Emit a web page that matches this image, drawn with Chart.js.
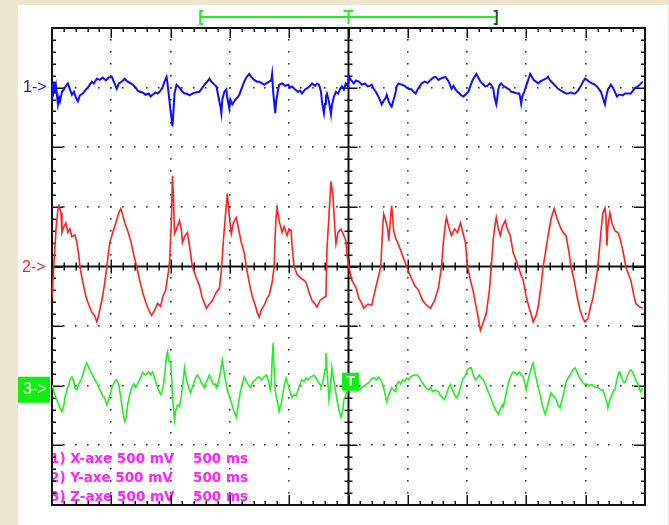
<!DOCTYPE html>
<html>
<head>
<meta charset="utf-8">
<title>Oszilloskop X / Y / Z</title>
<script src="https://cdn.jsdelivr.net/npm/chart.js@4.4.1/dist/chart.umd.min.js"></script>
<style>
  html, body { margin: 0; padding: 0; background: #efe6cf; overflow: hidden; }
  canvas { display: block; }
</style>
</head>
<body>
<canvas id="scope" width="669" height="525"></canvas>
<script>
// zeitbasis und empfindlichkeit (500 ms/div, 500 mV/div)
const timeMax = 5000;
const timeDiv = 500;
const timeMinor = 100;
const voltMax = 2000;
const voltDiv = 500;
const voltMinor = 100;

// bezugslinien der kanaele (mV auf dem schirm)
const channelOffset = [1500, 0, -1000];
const channelNames = ["1->", "2->", "3->"];
const channelColors = ["#0d0dff", "#ff2020", "#22ee22"];

const legendLines = [
  ["1) X-axe 500 mV", "500 ms"],
  ["2) Y-axe 500 mV", "500 ms"],
  ["3) Z-axe 500 mV", "500 ms"]
];

// [zeit ms, spannung mV] relativ zur bezugslinie
const ch1Samples = [[0,35],[8,-75],[17,50],[25,-50],[34,10],[50,-140],[59,-85],[67,-115],[84,-35],[101,-15],[118,15],[134,35],[151,-15],[168,-60],[185,-35],[202,-85],[218,-115],[235,-65],[260,-50],[286,-15],[302,0],[319,25],[336,50],[353,35],[378,75],[403,65],[428,85],[454,60],[479,85],[504,90],[521,50],[546,-10],[563,35],[588,50],[613,75],[638,50],[664,35],[680,25],[706,0],[722,-25],[739,-35],[764,-40],[790,-60],[815,-50],[832,-75],[848,-60],[874,-40],[890,-50],[907,-35],[932,0],[949,50],[966,90],[974,35],[991,-115],[1000,-200],[1016,-325],[1025,-185],[1033,-50],[1050,25],[1075,0],[1100,-35],[1117,-50],[1134,-50],[1159,-65],[1184,-50],[1210,-40],[1243,-35],[1268,0],[1294,35],[1310,50],[1327,75],[1344,50],[1369,25],[1386,10],[1403,-75],[1420,-160],[1428,-215],[1436,-100],[1453,-35],[1470,-15],[1478,-85],[1495,-175],[1504,-100],[1520,-140],[1546,-100],[1562,-85],[1579,-60],[1596,-15],[1621,50],[1638,85],[1663,115],[1680,90],[1705,65],[1730,50],[1747,50],[1772,35],[1789,25],[1806,35],[1831,50],[1848,60],[1856,115],[1865,-35],[1882,-215],[1890,-115],[1907,-15],[1915,25],[1940,35],[1966,15],[1991,25],[2008,0],[2024,10],[2050,-15],[2075,-35],[2092,-25],[2108,-50],[2134,-15],[2159,0],[2176,15],[2192,35],[2218,15],[2234,35],[2251,25],[2268,-35],[2276,-115],[2293,-215],[2302,-135],[2310,-75],[2318,-50],[2335,-115],[2352,-225],[2360,-150],[2377,-75],[2394,-35],[2411,-50],[2428,-15],[2444,10],[2461,-15],[2478,35],[2495,15],[2503,90],[2520,65],[2545,35],[2562,60],[2587,50],[2612,25],[2638,35],[2663,10],[2680,15],[2696,25],[2713,-10],[2730,-35],[2747,-65],[2764,-100],[2780,-140],[2797,-110],[2814,-85],[2822,-60],[2839,-115],[2856,-150],[2864,-160],[2881,-100],[2898,-35],[2906,10],[2923,35],[2948,25],[2974,15],[2990,0],[3007,-10],[3032,-15],[3049,-35],[3066,-50],[3083,-15],[3100,10],[3116,35],[3142,50],[3167,40],[3192,65],[3217,85],[3234,90],[3259,65],[3276,75],[3301,85],[3318,90],[3335,65],[3352,35],[3368,-10],[3385,15],[3402,-15],[3419,-35],[3436,-50],[3452,-65],[3469,-75],[3486,-60],[3503,-40],[3511,-35],[3528,15],[3545,60],[3562,90],[3578,115],[3595,85],[3612,50],[3629,35],[3654,10],[3671,15],[3688,35],[3704,25],[3721,-10],[3730,-75],[3746,-140],[3755,-85],[3763,-15],[3772,15],[3788,35],[3805,15],[3830,0],[3856,-15],[3872,-35],[3898,-40],[3923,-50],[3940,-50],[3948,-85],[3956,-135],[3965,-75],[3982,-35],[3998,15],[4015,65],[4032,115],[4049,85],[4066,60],[4082,50],[4099,35],[4116,50],[4141,65],[4166,75],[4183,90],[4200,60],[4225,35],[4250,10],[4267,-10],[4292,-25],[4318,-40],[4334,-50],[4351,-50],[4376,-40],[4393,-50],[4410,-50],[4435,-25],[4460,15],[4477,50],[4494,75],[4511,65],[4528,50],[4553,35],[4578,25],[4603,0],[4628,-35],[4645,-85],[4662,-140],[4670,-90],[4687,-15],[4704,10],[4712,25],[4729,0],[4746,-35],[4763,-75],[4780,-60],[4796,-60],[4813,-65],[4830,-50],[4855,-50],[4880,-50],[4906,-15],[4922,0],[4939,10],[4956,25],[4981,50]];

const ch2Samples = [[0,-260],[17,35],[34,315],[50,485],[59,510],[76,450],[84,285],[101,335],[118,365],[134,285],[151,315],[168,250],[193,265],[210,200],[227,85],[235,0],[260,-135],[286,-250],[311,-325],[336,-385],[361,-415],[378,-465],[395,-400],[420,-285],[445,-135],[462,0],[487,200],[512,285],[538,365],[563,450],[580,485],[596,435],[613,365],[638,300],[664,215],[689,100],[714,0],[739,-115],[764,-215],[790,-300],[815,-365],[840,-410],[865,-365],[890,-310],[916,-335],[932,-260],[958,-200],[983,-35],[991,35],[1008,425],[1016,760],[1025,550],[1033,275],[1050,315],[1075,385],[1092,300],[1100,200],[1117,250],[1142,285],[1159,175],[1184,0],[1218,-100],[1243,-160],[1268,-265],[1302,-350],[1327,-315],[1352,-285],[1386,-215],[1411,-185],[1428,-35],[1445,215],[1462,425],[1478,610],[1495,425],[1512,275],[1529,365],[1554,410],[1579,285],[1596,200],[1621,115],[1638,0],[1663,-135],[1688,-250],[1714,-325],[1730,-385],[1747,-425],[1764,-365],[1789,-325],[1814,-265],[1831,-240],[1856,-135],[1873,0],[1882,260],[1890,425],[1898,490],[1915,385],[1940,285],[1957,335],[1982,260],[1999,315],[2016,300],[2024,175],[2041,0],[2066,-65],[2100,-100],[2125,-115],[2142,-135],[2167,-215],[2192,-285],[2218,-315],[2234,-340],[2260,-285],[2293,-260],[2310,-250],[2318,135],[2335,425],[2352,715],[2369,590],[2386,300],[2394,190],[2411,285],[2436,315],[2461,260],[2478,215],[2486,110],[2503,0],[2528,-115],[2562,-175],[2587,-265],[2612,-310],[2629,-350],[2663,-315],[2696,-325],[2730,-175],[2755,-75],[2772,0],[2789,340],[2797,440],[2814,385],[2831,315],[2839,215],[2856,425],[2864,510],[2881,300],[2898,235],[2915,200],[2940,135],[2965,65],[2990,0],[3024,-85],[3058,-160],[3091,-200],[3125,-285],[3158,-325],[3192,-350],[3226,-285],[3259,-175],[3284,0],[3301,215],[3318,365],[3326,410],[3343,340],[3368,260],[3394,315],[3419,285],[3444,365],[3461,300],[3486,200],[3503,0],[3528,-115],[3553,-215],[3570,-310],[3595,-435],[3612,-535],[3637,-465],[3662,-390],[3688,-200],[3704,0],[3721,235],[3738,365],[3746,410],[3763,315],[3780,260],[3797,335],[3822,385],[3839,315],[3864,260],[3889,115],[3914,50],[3931,0],[3956,-75],[3973,-115],[3998,-250],[4024,-350],[4040,-400],[4057,-465],[4082,-410],[4099,-340],[4124,-160],[4141,0],[4166,150],[4183,260],[4208,400],[4234,485],[4259,400],[4292,315],[4318,275],[4334,260],[4360,115],[4376,0],[4402,-115],[4427,-250],[4452,-365],[4477,-435],[4494,-465],[4519,-435],[4544,-325],[4561,-265],[4586,-115],[4603,0],[4628,285],[4645,450],[4662,490],[4670,425],[4679,175],[4687,340],[4704,450],[4721,365],[4746,300],[4771,285],[4788,240],[4813,135],[4838,0],[4864,-75],[4880,-115],[4906,-240],[4922,-310],[4948,-335],[4981,-350]];

const ch3Samples = [[0,10],[17,-50],[34,-100],[50,-140],[67,-185],[84,-215],[101,-160],[109,-100],[126,-35],[143,10],[151,50],[168,75],[185,35],[193,-15],[210,-35],[227,15],[244,50],[260,90],[277,150],[294,190],[311,150],[328,115],[344,85],[361,50],[378,25],[395,-15],[412,-50],[428,-85],[445,-100],[462,-160],[479,-115],[496,-50],[512,0],[529,35],[546,50],[563,10],[580,-100],[596,-215],[613,-300],[622,-285],[638,-160],[655,-75],[672,-15],[689,15],[706,-15],[722,15],[739,50],[764,110],[790,90],[815,115],[832,90],[848,115],[865,65],[882,10],[899,-35],[916,-75],[924,-60],[941,10],[958,175],[966,260],[974,285],[983,215],[1000,190],[1008,90],[1016,-75],[1025,-200],[1033,-285],[1042,-215],[1058,-160],[1075,-175],[1092,-75],[1109,65],[1117,150],[1134,50],[1151,-15],[1168,-60],[1176,-35],[1193,15],[1210,65],[1226,90],[1243,65],[1260,25],[1277,0],[1285,-15],[1302,35],[1310,50],[1327,90],[1344,50],[1361,10],[1378,15],[1386,-15],[1403,35],[1420,115],[1436,215],[1445,150],[1462,50],[1478,-35],[1495,-85],[1512,-140],[1529,-200],[1546,-240],[1554,-265],[1571,-160],[1588,-50],[1604,15],[1621,75],[1638,35],[1655,10],[1672,-15],[1680,0],[1697,35],[1714,50],[1730,65],[1747,75],[1764,50],[1781,65],[1806,90],[1823,50],[1831,10],[1840,-35],[1848,10],[1856,215],[1865,360],[1873,135],[1882,-35],[1890,-90],[1907,-160],[1915,-215],[1932,-160],[1949,-50],[1966,35],[1974,65],[1991,10],[2008,-50],[2024,-100],[2041,-75],[2058,-85],[2075,-35],[2092,15],[2108,50],[2125,35],[2142,65],[2159,50],[2184,75],[2209,90],[2226,65],[2243,35],[2260,10],[2268,-10],[2285,35],[2302,135],[2310,275],[2318,150],[2327,10],[2335,-115],[2344,-50],[2360,150],[2369,90],[2386,-15],[2402,-115],[2419,-200],[2436,-260],[2453,-200],[2461,-115],[2478,-75],[2495,-35],[2520,-35],[2545,-25],[2570,-15],[2596,-35],[2612,-15],[2638,0],[2654,15],[2671,25],[2688,50],[2705,65],[2722,65],[2738,50],[2755,75],[2772,50],[2789,10],[2806,-60],[2822,-135],[2831,-100],[2848,-60],[2864,-15],[2881,-35],[2898,-50],[2906,10],[2923,35],[2940,15],[2957,50],[2974,35],[2990,65],[3007,50],[3024,75],[3041,85],[3066,90],[3083,90],[3100,65],[3116,35],[3133,10],[3150,-15],[3175,-35],[3192,-15],[3209,-50],[3234,-35],[3259,-50],[3276,-85],[3293,-100],[3310,-115],[3326,-75],[3343,-15],[3360,10],[3377,-35],[3394,-75],[3410,-100],[3427,-75],[3444,-15],[3461,50],[3478,75],[3486,90],[3503,135],[3520,150],[3536,150],[3553,90],[3570,50],[3587,65],[3604,90],[3620,65],[3637,50],[3654,10],[3671,-35],[3688,-75],[3704,-115],[3721,-160],[3738,-200],[3755,-225],[3763,-240],[3780,-200],[3797,-160],[3805,-175],[3822,-100],[3839,-15],[3856,50],[3872,90],[3889,115],[3906,110],[3923,90],[3940,115],[3956,90],[3973,75],[3990,10],[3998,-35],[4015,50],[4032,115],[4049,175],[4057,190],[4066,135],[4082,65],[4099,-10],[4116,-75],[4133,-160],[4150,-215],[4158,-240],[4175,-185],[4192,-115],[4208,-60],[4225,-85],[4242,-100],[4250,-115],[4267,-160],[4284,-185],[4301,-115],[4318,-50],[4334,25],[4351,65],[4368,90],[4393,135],[4410,150],[4427,115],[4444,75],[4460,50],[4477,25],[4494,10],[4511,15],[4528,0],[4553,10],[4578,-10],[4603,-15],[4628,-35],[4645,-35],[4662,-85],[4679,-140],[4687,-185],[4704,-115],[4721,-75],[4738,-35],[4746,-35],[4763,50],[4780,110],[4788,115],[4805,65],[4822,25],[4830,25],[4847,65],[4864,115],[4880,135],[4897,115],[4914,65],[4931,25],[4939,25],[4956,-35],[4964,-50],[4981,-15]];

const samples = [ch1Samples, ch2Samples, ch3Samples];

function steps(from, to, step) {
  const out = [];
  for (let v = from; v <= to + 0.001; v += step) out.push(v);
  return out;
}

// hintergrund: folienrand + weisser schirm
const backgroundPlugin = {
  id: "scopeBackground",
  beforeDraw(chart) {
    const ctx = chart.ctx;
    ctx.save();
    ctx.fillStyle = "#efe6cf";
    ctx.fillRect(0, 0, chart.width, chart.height);
    ctx.fillStyle = "#ffffff";
    ctx.fillRect(18, 5, chart.width - 19, chart.height - 5);
    ctx.restore();
  }
};

// raster, rahmen, achsenkreuz, beschriftung
const gridPlugin = {
  id: "scopeGrid",
  beforeDatasetsDraw(chart) {
    const ctx = chart.ctx;
    const xs = chart.scales.x, ys = chart.scales.y;
    const px = v => xs.getPixelForValue(v);
    const py = v => ys.getPixelForValue(v);
    const L = px(0), R = px(timeMax), T = py(voltMax), B = py(-voltMax);
    const cx = px(timeMax / 2), cy = py(0);
    const majorT = steps(0, timeMax, timeDiv);
    const majorV = steps(-voltMax, voltMax, voltDiv);
    const minorT = steps(0, timeMax, timeMinor);
    const minorV = steps(-voltMax, voltMax, voltMinor);

    ctx.save();
    // punktraster
    ctx.fillStyle = "#3a3a3a";
    majorT.forEach(t => {
      if (t === 0 || t === timeMax || t === timeMax / 2) return;
      minorV.forEach(v => ctx.fillRect(Math.round(px(t)) - 1, Math.round(py(v)) - 1, 1.6, 1.6));
    });
    majorV.forEach(v => {
      if (v === voltMax || v === -voltMax || v === 0) return;
      minorT.forEach(t => ctx.fillRect(Math.round(px(t)) - 1, Math.round(py(v)) - 1, 1.6, 1.6));
    });

    // magenta kanaltexte
    ctx.fillStyle = "#ff22ff";
    ctx.font = 'bold 13.5px "DejaVu Sans"';
    ctx.textBaseline = "middle";
    const rowY = [B - 45.5, B - 27, B - 8];
    legendLines.forEach((line, i) => {
      ctx.fillText(line[0], L - 2, rowY[i]);
      ctx.fillText(line[1], L + 141, rowY[i]);
    });

    // rahmen mit teilstrichen
    ctx.strokeStyle = "#111";
    ctx.lineWidth = 2;
    ctx.strokeRect(L, T, R - L, B - T);
    ctx.lineWidth = 1.5;
    ctx.beginPath();
    minorT.forEach(t => {
      if (t === 0 || t === timeMax) return;
      const len = t % timeDiv === 0 ? 10 : 4;
      const x = Math.round(px(t)) + 0.25;
      ctx.moveTo(x, T); ctx.lineTo(x, T + len);
      ctx.moveTo(x, B); ctx.lineTo(x, B - len);
      const c = t % timeDiv === 0 ? 7 : 4;
      ctx.moveTo(x, cy - c); ctx.lineTo(x, cy + c);
    });
    minorV.forEach(v => {
      if (v === voltMax || v === -voltMax) return;
      const len = v % voltDiv === 0 ? 11 : 4;
      const y = Math.round(py(v)) + 0.25;
      ctx.moveTo(L, y); ctx.lineTo(L + len, y);
      ctx.moveTo(R, y); ctx.lineTo(R - len, y);
      const c = v % voltDiv === 0 ? 9 : 4;
      ctx.moveTo(cx - c, y); ctx.lineTo(cx + c, y);
    });
    ctx.stroke();

    // achsenkreuz
    ctx.lineWidth = 2;
    ctx.beginPath();
    ctx.moveTo(cx, T); ctx.lineTo(cx, B);
    ctx.moveTo(L, cy); ctx.lineTo(R, cy);
    ctx.stroke();
    ctx.restore();
  },
  afterDatasetsDraw(chart) {
    const ctx = chart.ctx;
    const xs = chart.scales.x, ys = chart.scales.y;
    const px = v => xs.getPixelForValue(v);
    const py = v => ys.getPixelForValue(v);
    const T = py(voltMax);
    const cx = px(timeMax / 2);

    ctx.save();
    // triggerbalken oben
    const by = T - 11;
    const bl = px(timeMax / 4), br = px(timeMax * 3 / 4);
    ctx.lineWidth = 2;
    ctx.strokeStyle = "#22ee22";
    ctx.beginPath();
    ctx.moveTo(bl, by); ctx.lineTo(br, by);
    ctx.moveTo(bl + 3, by - 6); ctx.lineTo(bl, by - 6); ctx.lineTo(bl, by + 7); ctx.lineTo(bl + 3, by + 7);
    ctx.moveTo(cx - 5, by - 6); ctx.lineTo(cx + 5, by - 6);
    ctx.moveTo(cx, by - 6); ctx.lineTo(cx, by + 7);
    ctx.stroke();
    ctx.strokeStyle = "#1d5a1d";
    ctx.beginPath();
    ctx.moveTo(br - 3, by - 6); ctx.lineTo(br, by - 6); ctx.lineTo(br, by + 7); ctx.lineTo(br - 3, by + 7);
    ctx.stroke();

    // kanalmarken links
    ctx.font = '16px "Liberation Sans"';
    ctx.textBaseline = "middle";
    ctx.fillStyle = channelColors[0];
    ctx.fillText(channelNames[0], 23, py(channelOffset[0]));
    ctx.fillStyle = channelColors[1];
    ctx.fillText(channelNames[1], 22, py(channelOffset[1]) + 1);
    const r3 = py(channelOffset[2]);
    ctx.fillStyle = "#11ee11";
    ctx.fillRect(18, r3 - 9, 32, 26);
    ctx.fillStyle = "#ffffff";
    ctx.fillText(channelNames[2], 23, r3 + 4);

    // triggermarke T
    ctx.fillStyle = "#11ee11";
    ctx.fillRect(cx - 6.5, r3 - 13, 17, 18);
    ctx.fillStyle = "#ffffff";
    ctx.font = 'bold 15px "Liberation Sans"';
    ctx.textAlign = "center";
    ctx.fillText("T", cx + 2, r3 - 3.5);
    ctx.restore();
  }
};

const datasets = samples.map((list, i) => ({
  label: channelNames[i],
  data: list.map(p => ({ x: p[0], y: p[1] + channelOffset[i] })),
  borderColor: channelColors[i],
  borderWidth: i === 0 ? 2 : 1.6,
  pointRadius: 0,
  tension: 0,
  fill: false
}));

new Chart(document.getElementById("scope"), {
  type: "line",
  data: { datasets },
  options: {
    responsive: false,
    animation: false,
    layout: { padding: { left: 52, right: 24, top: 28, bottom: 20 } },
    scales: {
      x: { type: "linear", min: 0, max: timeMax, display: false },
      y: { type: "linear", min: -voltMax, max: voltMax, display: false }
    },
    plugins: {
      legend: { display: false },
      tooltip: { enabled: false }
    }
  },
  plugins: [backgroundPlugin, gridPlugin]
});
</script>
</body>
</html>
